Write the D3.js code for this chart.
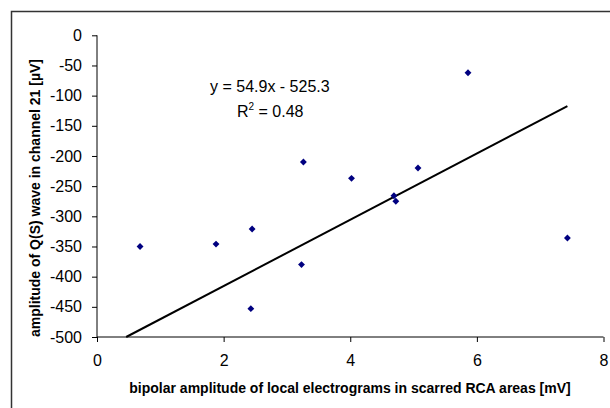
<!DOCTYPE html>
<html>
<head>
  <meta charset="utf-8">
  <title>QS amplitude vs bipolar amplitude</title>
  <script src="https://d3js.org/d3.v7.min.js"></script>
  <style>
    body { margin: 0; background: #fff; }
    text { font-family: "Liberation Sans", Arial, sans-serif; }
  </style>
</head>
<body>
<script>
// data
var bipolarAmp = [0.68, 1.88, 2.45, 2.43, 3.23, 3.26, 4.02, 4.69, 4.72, 5.07, 5.86, 7.43];
var qsAmp = [-350, -346, -321, -453, -380, -210, -237, -266, -275, -220, -62, -336];
var xTicks = [0, 2, 4, 6, 8];
var yTicks = [0, -50, -100, -150, -200, -250, -300, -350, -400, -450, -500];
var slope = 54.9, intercept = -525.3;

var width = 610, height = 408;
var svg = d3.select("body").append("svg").attr("width", width).attr("height", height);

// chart border (only top/left visible)
svg.append("rect")
  .attr("x", 11.5).attr("y", 11.5)
  .attr("width", 700).attr("height", 500)
  .attr("fill", "none").attr("stroke", "#333").attr("stroke-width", 1.5);

var xScale = d3.scaleLinear().domain([0, 8]).range([97, 603.5]);
var yScale = d3.scaleLinear().domain([-500, 0]).range([337, 35.3]);

var plain = function(d) { return String(d); }; // hyphen minus like the original

// axes
svg.append("g")
  .attr("transform", "translate(0," + yScale(-500) + ")")
  .call(d3.axisBottom(xScale).tickValues(xTicks).tickFormat(plain).tickSize(5).tickPadding(13))
  .call(function(g) {
    g.selectAll("text").attr("font-size", 16).attr("fill", "#000").attr("font-family", "Liberation Sans, Arial");
    g.selectAll("line, path").attr("stroke", "#000");
    g.select(".domain").attr("d", "M" + xScale(0) + ",0H" + xScale(8));
  });

svg.append("g")
  .attr("transform", "translate(" + xScale(0) + ",0)")
  .call(d3.axisLeft(yScale).tickValues(yTicks).tickFormat(plain).tickSize(5).tickPadding(10))
  .call(function(g) {
    g.selectAll("text").attr("font-size", 16).attr("fill", "#000").attr("font-family", "Liberation Sans, Arial");
    g.selectAll("line, path").attr("stroke", "#000");
    g.select(".domain").attr("d", "M0," + yScale(0) + "V" + yScale(-500));
  });

// trendline
var xStart = (-500 - intercept) / slope;
var xEnd = d3.max(bipolarAmp);
svg.append("line")
  .attr("x1", xScale(xStart)).attr("y1", yScale(slope * xStart + intercept))
  .attr("x2", xScale(xEnd)).attr("y2", yScale(slope * xEnd + intercept))
  .attr("stroke", "#000").attr("stroke-width", 2);

// points
var diamond = d3.symbol().type(d3.symbolDiamond2).size(30);
svg.append("g")
  .selectAll("path")
  .data(bipolarAmp)
  .enter()
  .append("path")
  .attr("d", diamond)
  .attr("transform", function(d, i) { return "translate(" + xScale(d) + "," + yScale(qsAmp[i]) + ")"; })
  .attr("fill", "#000080");

// equation
svg.append("text").attr("x", 210).attr("y", 92).attr("font-size", 16)
  .text("y = 54.9x - 525.3");
var r2 = svg.append("text").attr("x", 237).attr("y", 117).attr("font-size", 16);
r2.append("tspan").text("R");
r2.append("tspan").attr("dy", -7).attr("font-size", 10).text("2");
r2.append("tspan").attr("dy", 7).text(" = 0.48");

// axis titles
svg.append("text")
  .attr("x", 350).attr("y", 393)
  .attr("text-anchor", "middle").attr("font-size", 14).attr("font-weight", "bold")
  .text("bipolar amplitude of local electrograms in scarred RCA areas [mV]");

svg.append("text")
  .attr("transform", "translate(40,198) rotate(-90)")
  .attr("text-anchor", "middle").attr("font-size", 14).attr("font-weight", "bold")
  .text("amplitude of Q(S) wave in channel 21 [µV]");
</script>
</body>
</html>
